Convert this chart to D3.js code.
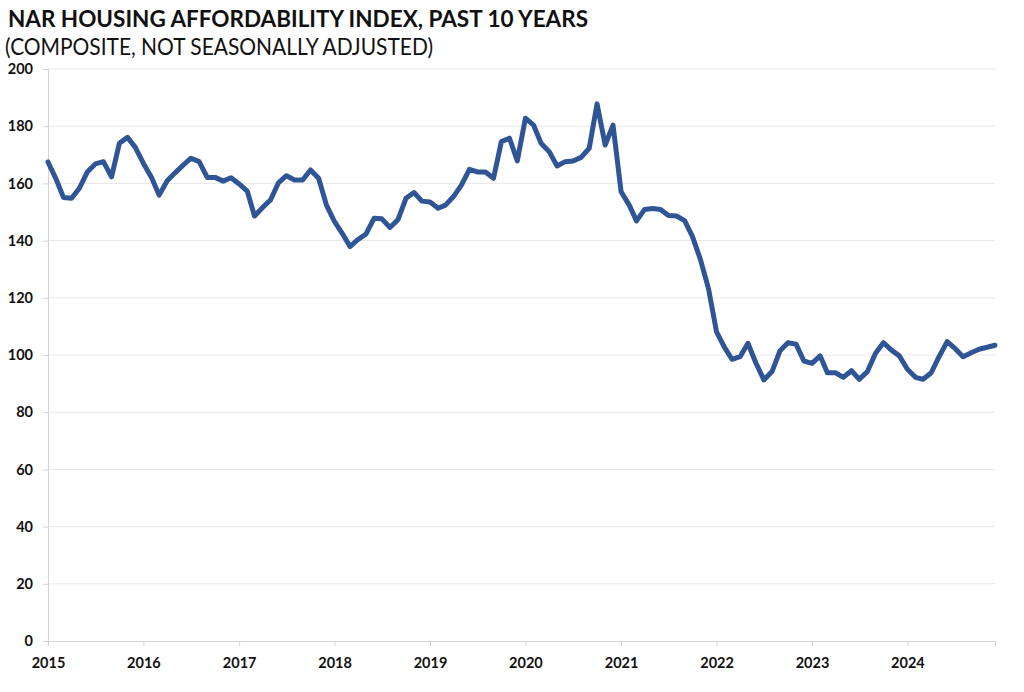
<!DOCTYPE html>
<html><head><meta charset="utf-8">
<script src="https://cdn.jsdelivr.net/npm/d3@7"></script>
<style>
html,body{margin:0;padding:0;background:#fff;}
svg{display:block;font-family:Lato,"Open Sans",sans-serif;}
</style></head>
<body>
<svg id="chart" width="1024" height="692"></svg>
<script>
const titleText = "NAR HOUSING AFFORDABILITY INDEX, PAST 10 YEARS";
const subtitleText = "(COMPOSITE, NOT SEASONALLY ADJUSTED)";
const startYear = 2015;
const yearTicks = [2015,2016,2017,2018,2019,2020,2021,2022,2023,2024];
const yTicks = [0,20,40,60,80,100,120,140,160,180,200];
const v2015 = [167.5,161.5,155.1,154.8,158.3,164.1,166.8,167.6,162.3,174.0,176.1,172.6];
const v2016 = [167.0,162.1,155.9,160.9,163.7,166.4,168.8,167.6,162.1,162.1,160.8,162.0];
const v2017 = [159.8,157.3,148.6,151.6,154.2,160.3,162.7,161.2,161.2,164.7,161.8,152.4];
const v2018 = [146.6,142.3,137.9,140.4,142.3,147.8,147.6,144.6,147.4,154.8,156.8,153.8];
const v2019 = [153.5,151.3,152.4,155.4,159.4,164.9,164.0,164.0,161.8,174.6,175.8,167.9];
const v2020 = [182.8,180.4,174.0,171.1,166.1,167.6,167.8,169.1,172.3,187.8,173.4,180.4];
const v2021 = [157.1,152.4,146.9,150.9,151.2,150.9,148.8,148.6,147.0,141.4,133.2,123.3];
const v2022 = [108.1,102.6,98.5,99.4,104.1,97.1,91.3,94.2,101.5,104.3,103.8,97.9];
const v2023 = [97.1,99.7,93.8,93.8,92.2,94.5,91.5,94.2,100.6,104.3,101.7,99.7];
const v2024 = [95.0,92.2,91.5,93.8,99.4,104.7,102.3,99.4,100.8,102.0,102.7,103.4];
const values = [].concat(v2015,v2016,v2017,v2018,v2019,v2020,v2021,v2022,v2023,v2024);
const data = values.map((v,i)=>({date:new Date(startYear + Math.floor(i/12), i%12, 1), value:v}));

const svg = d3.select("#chart");
const mLeft = 48, mRight = 995, mTop = 69, mBottom = 641;

const x = d3.scaleTime().domain([data[0].date, data[data.length-1].date]).range([mLeft, mRight]);
const y = d3.scaleLinear().domain([0,200]).range([mBottom, mTop]);

// title
svg.append("text").attr("x",8).attr("y",27).attr("font-weight","bold")
  .attr("font-size",22).attr("fill","#111").text(titleText)
  .attr("textLength",580).attr("lengthAdjust","spacingAndGlyphs");
svg.append("text").attr("x",5).attr("y",55)
  .attr("font-size",22.5).attr("fill","#111").text(subtitleText)
  .attr("textLength",428).attr("lengthAdjust","spacingAndGlyphs");

// gridlines
svg.append("g").selectAll("line").data(yTicks.filter(d=>d>0)).join("line")
  .attr("x1",mLeft).attr("x2",mRight).attr("y1",d=>y(d)).attr("y2",d=>y(d))
  .attr("stroke","#e8e8e8").attr("stroke-width",1);

// y axis
const yAxis = svg.append("g").attr("transform",`translate(${mLeft},0)`)
  .call(d3.axisLeft(y).tickValues(yTicks).tickSize(5).tickPadding(10).tickFormat(d3.format("d")));
yAxis.select(".domain").attr("stroke","#d4d4d4");
yAxis.selectAll(".tick line").attr("stroke","#d4d4d4");
yAxis.selectAll("text").attr("font-size",14.5).attr("font-weight","bold").attr("fill","#111")
  .attr("font-family","Lato,'Open Sans',sans-serif");

// x axis
const xAxis = svg.append("g").attr("transform",`translate(0,${mBottom})`)
  .call(d3.axisBottom(x).tickValues(yearTicks.map(yr=>new Date(yr,0,1))).tickSize(5).tickPadding(12)
    .tickFormat(d3.timeFormat("%Y")));
xAxis.select(".domain").attr("stroke","#d4d4d4");
xAxis.selectAll(".tick line").attr("stroke","#d4d4d4");
xAxis.selectAll("text").attr("font-size",14.5).attr("font-weight","bold").attr("fill","#111")
  .attr("font-family","Lato,'Open Sans',sans-serif");

// line
svg.append("path").datum(data)
  .attr("fill","none").attr("stroke","#2f5597").attr("stroke-width",5)
  .attr("stroke-linejoin","round").attr("stroke-linecap","round")
  .attr("d", d3.line().x(d=>x(d.date)).y(d=>y(d.value)));
</script>
</body></html>
